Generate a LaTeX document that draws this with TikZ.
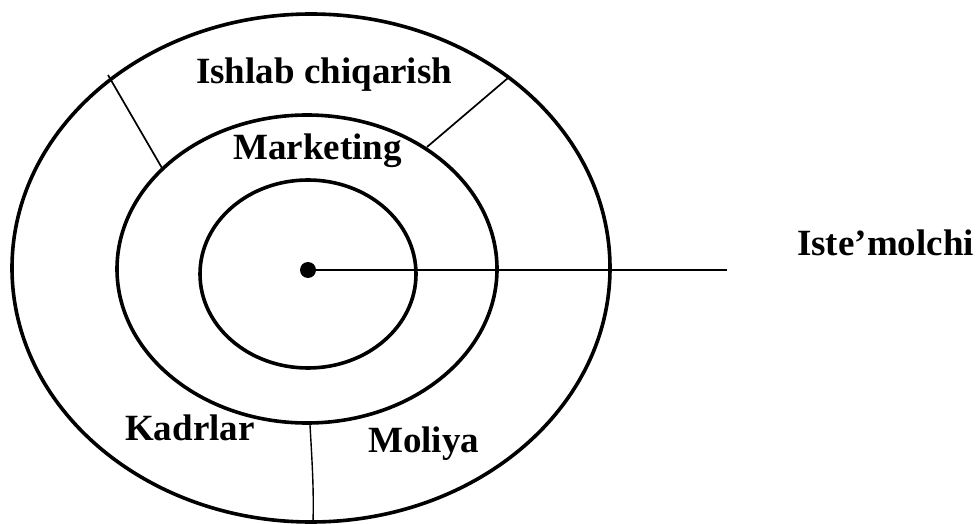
\documentclass[tikz,border=0pt]{standalone}
\usepackage{fontspec}
\setmainfont{Liberation Serif}
\usetikzlibrary{shapes.geometric}
\begin{document}
\begin{tikzpicture}[x=1pt,y=-1pt,
  ring/.style={draw, ellipse, line width=3.6pt, inner sep=0pt, outer sep=0pt},
  divider/.style={line width=1.7pt},
  thin divider/.style={line width=1.4pt},
  lbl/.style={font=\fontsize{37}{40}\selectfont\bfseries, inner sep=0pt, anchor=base west}]
\useasboundingbox (0,0) rectangle (978,524);
\node[ring, minimum width=598pt, minimum height=508pt] (outer) at (311,268) {};
\node[ring, minimum width=380pt, minimum height=308pt] (middle) at (307,269) {};
\node[ring, minimum width=216pt, minimum height=188pt] (inner) at (308,274) {};
\coordinate (tlo) at (108,75);
\coordinate (tli) at (162,168);
\coordinate (tro) at (508,78);
\coordinate (tri) at (427,147);
\coordinate (bti) at (310,425);
\coordinate (bto) at (313,523);
\draw[divider] (tlo) -- (tli);
\draw[divider] (tro) -- (tri);
\draw[thin divider] (bti) .. controls (312,460) and (314,490) .. (bto);
\node[circle, fill, minimum size=16pt, inner sep=0pt] (dot) at (308,270) {};
\coordinate (lend) at (727,270);
\draw[line width=2.8pt] (dot.center) -- (lend);
\node[lbl] (ishlab) at (196,84) {Ishlab chiqarish};
\node[lbl] (marketing) at (233,160) {Marketing};
\node[lbl] (kadrlar) at (125,440) {Kadrlar};
\node[lbl] (moliya) at (368,452) {Moliya};
\node[lbl] (istemol) at (797,255) {Iste’molchi};
\end{tikzpicture}
\end{document}
